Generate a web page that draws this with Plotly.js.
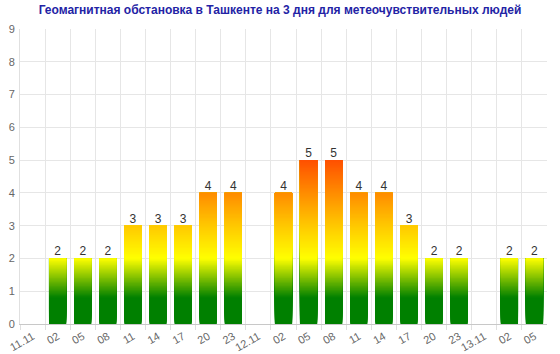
<!DOCTYPE html>
<html><head><meta charset="utf-8">
<script src="https://cdn.plot.ly/plotly-3.0.1.min.js"></script>
<style>html,body{margin:0;padding:0;background:#fff}#chart{width:560px;height:354px}</style>
</head><body><div id="chart"></div>
<script>
// Data
const tickLabels = ['11.11','02','05','08','11','14','17','20','23','12.11','02','05','08','11','14','17','20','23','13.11','02','05'];
const kpValues = [null,2,2,2,3,3,3,4,4,null,4,5,5,4,4,3,2,2,null,2,2];
const chartTitle = 'Геомагнитная обстановка в Ташкенте на 3 дня для метеочувствительных людей';

// Gradient colour stops (absolute value on the y axis -> rgb)
const gradStops = [[0,[0,128,0]],[0.8,[0,128,0]],[2,[255,255,0]],[3,[255,200,0]],[4,[255,140,0]],[5,[255,80,0]]];
function colorAt(v){
  for(let i=1;i<gradStops.length;i++){
    const a=gradStops[i-1], b=gradStops[i];
    if(v<=b[0]){
      const t=(v-a[0])/(b[0]-a[0]);
      const c=a[1].map((x,j)=>Math.round(x+(b[1][j]-x)*Math.max(0,Math.min(1,t))));
      return 'rgb('+c.join(',')+')';
    }
  }
  return 'rgb('+gradStops[gradStops.length-1][1].join(',')+')';
}

const xIdx = tickLabels.map((_,i)=>i);
const step = 0.04;
const maxV = Math.max(...kpValues.filter(v=>v!=null));
const nSlices = Math.round(maxV/step);
const traces = [];
for(let k=0;k<nSlices;k++){
  const base = k*step;
  traces.push({
    type:'bar', x:xIdx,
    y:kpValues.map(v=> (v==null || v<=base+1e-9) ? null : v-base),
    base:base,
    marker:{color:colorAt(base+step/2), line:{width:0}},
    hoverinfo:'skip', showlegend:false
  });
}
traces.push({
  type:'scatter', mode:'text', x:xIdx, y:kpValues,
  text:kpValues.map(v=>v==null?'':String(v)),
  textposition:'top center',
  textfont:{family:'Liberation Sans, Arial, sans-serif', size:12, color:'#333'},
  cliponaxis:false, hoverinfo:'skip', showlegend:false
});

const layout = {
  width:560, height:354,
  margin:{l:20, r:13, t:29, b:30},
  paper_bgcolor:'#fff', plot_bgcolor:'#fff',
  barmode:'overlay', bargap:0.31,
  showlegend:false, hovermode:false,
  font:{family:'Liberation Sans, Arial, sans-serif', size:11, color:'#666'},
  title:{text:'<b>'+chartTitle+'</b>', x:0.5, xanchor:'center', y:0.985, yanchor:'top',
         font:{family:'Liberation Sans, Arial, sans-serif', size:12, color:'#2323a5'}},
  xaxis:{
    range:[-0.5, tickLabels.length-0.5], tickmode:'array', tickvals:xIdx, ticktext:tickLabels,
    tickangle:-30, showgrid:false, zeroline:false,
    showline:true, linecolor:'#c8c8c8', linewidth:1,
    ticks:'', ticklabelstandoff:1,
    tickfont:{size:11, color:'#666'},
    minor:{tickmode:'array', tickvals:xIdx.map(i=>i-0.5), showgrid:true, gridcolor:'#e6e6e6', gridwidth:1,
           ticks:'outside', ticklen:5, tickcolor:'#e0e0e0'}
  },
  yaxis:{
    range:[0,9], dtick:1, showgrid:true, gridcolor:'#e6e6e6', gridwidth:1,
    zeroline:false, showline:true, linecolor:'#e0e0e0',
    tickfont:{size:11, color:'#666'}, ticklabelstandoff:2
  }
};
Plotly.newPlot('chart', traces, layout, {staticPlot:true, displayModeBar:false});
</script></body></html>
